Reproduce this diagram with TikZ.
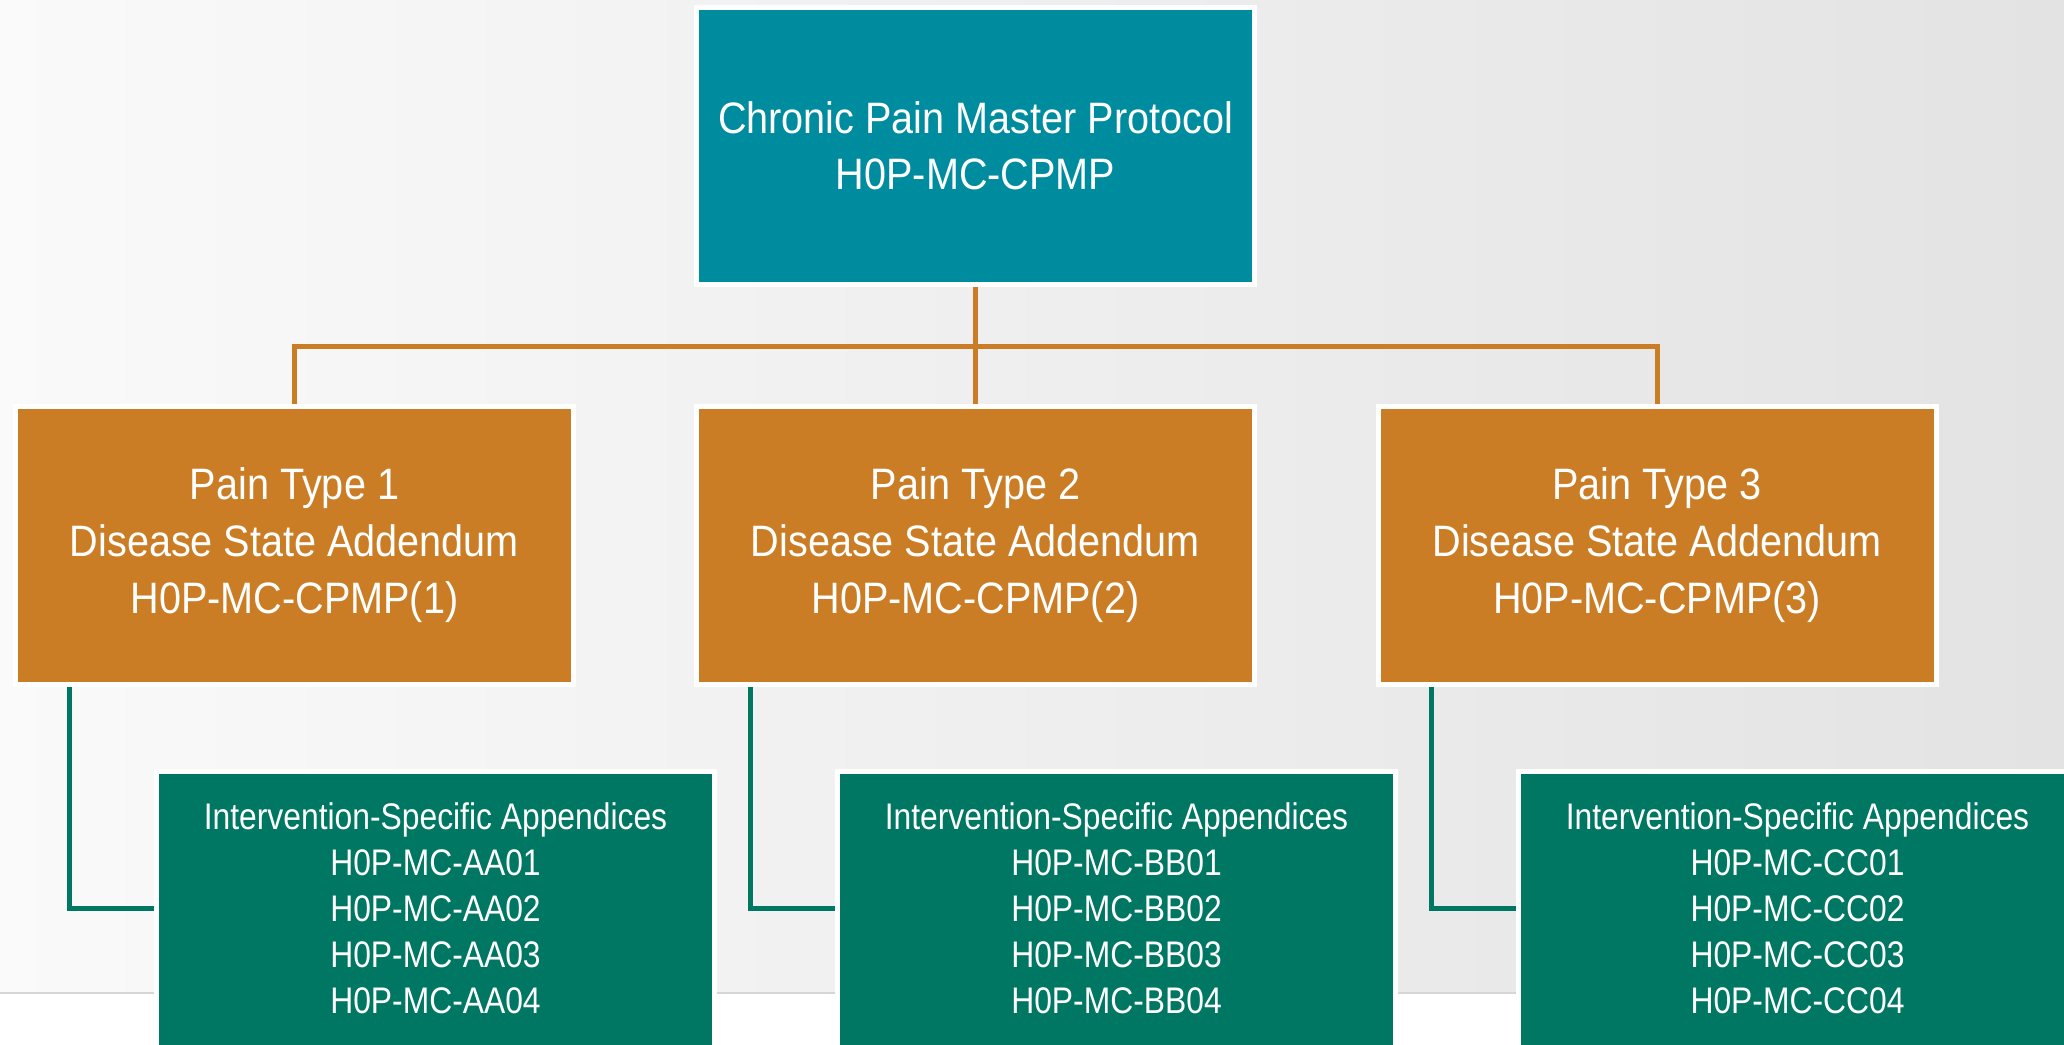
\documentclass[tikz,border=0pt]{standalone}
\usepackage{fontspec}
\setmainfont{Liberation Sans}
\newfontfamily\boxfont{Liberation Sans}[FakeStretch=0.9]
\newfontfamily\appfont{Liberation Sans}[FakeStretch=0.86]
\usetikzlibrary{positioning}
\definecolor{masterteal}{HTML}{008C9F}
\definecolor{addendumorange}{HTML}{CB7D26}
\definecolor{appendixgreen}{HTML}{007763}

\begin{document}
\begin{tikzpicture}[
    x=0.5pt,
    y=-0.5pt,
    master box/.style={
        draw=white,
        line width=2.5pt,
        fill=masterteal,
        text=white,
        inner sep=0pt,
        minimum width=279pt,
        minimum height=138.5pt,
        align=center,
        font=\boxfont\fontsize{22}{28}\selectfont
    },
    addendum box/.style={
        master box,
        fill=addendumorange,
        minimum height=139pt,
        font=\boxfont\fontsize{22}{28.5}\selectfont
    },
    appendix box/.style={
        master box,
        fill=appendixgreen,
        minimum height=159.5pt,
        font=\appfont\fontsize{18.5}{23}\selectfont
    },
    branch line/.style={
        draw,
        addendumorange,
        line width=2.5pt
    },
    appendix line/.style={
        draw,
        appendixgreen,
        line width=2.5pt
    },
    ]
    \useasboundingbox (0,0) rectangle (2064,1044);
    \fill[white] (0,0) rectangle (2064,1044);
    \shade[left color=white!98!black, right color=white!89!black] (0,0) rectangle (2064,992);
    \draw[white!84!black, line width=1pt] (0,993) -- (2064,993);

    \node[master box] (master) at (975.5,146) {Chronic Pain Master Protocol\\H0P-MC-CPMP};

    \node[addendum box] (pain1) at (294.5,545.5) {Pain Type 1\\Disease State Addendum\\H0P-MC-CPMP(1)};
    \node[addendum box] (pain2) at (975.5,545.5) {Pain Type 2\\Disease State Addendum\\H0P-MC-CPMP(2)};
    \node[addendum box] (pain3) at (1657,545.5) {Pain Type 3\\Disease State Addendum\\H0P-MC-CPMP(3)};

    \node[appendix box] (app1) at (435.5,931) {Intervention-Specific Appendices\\H0P-MC-AA01\\H0P-MC-AA02\\H0P-MC-AA03\\H0P-MC-AA04\\\mbox{}};
    \node[appendix box] (app2) at (1116.5,931) {Intervention-Specific Appendices\\H0P-MC-BB01\\H0P-MC-BB02\\H0P-MC-BB03\\H0P-MC-BB04\\\mbox{}};
    \node[appendix box] (app3) at (1797.5,931) {Intervention-Specific Appendices\\H0P-MC-CC01\\H0P-MC-CC02\\H0P-MC-CC03\\H0P-MC-CC04\\\mbox{}};

    \coordinate (bus) at (975.5,346);
    \draw[branch line] (master.south) -- (pain2.north);
    \draw[branch line] (pain1.north) -- (pain1.north |- bus) -- (pain3.north |- bus) -- (pain3.north);

    \foreach \i in {1,2,3}
        \draw[appendix line] ([xshift=28pt]pain\i.south west) -- ([xshift=28pt]pain\i.south west |- 0,908) -- (app\i.west |- 0,908);
\end{tikzpicture}
\end{document}
